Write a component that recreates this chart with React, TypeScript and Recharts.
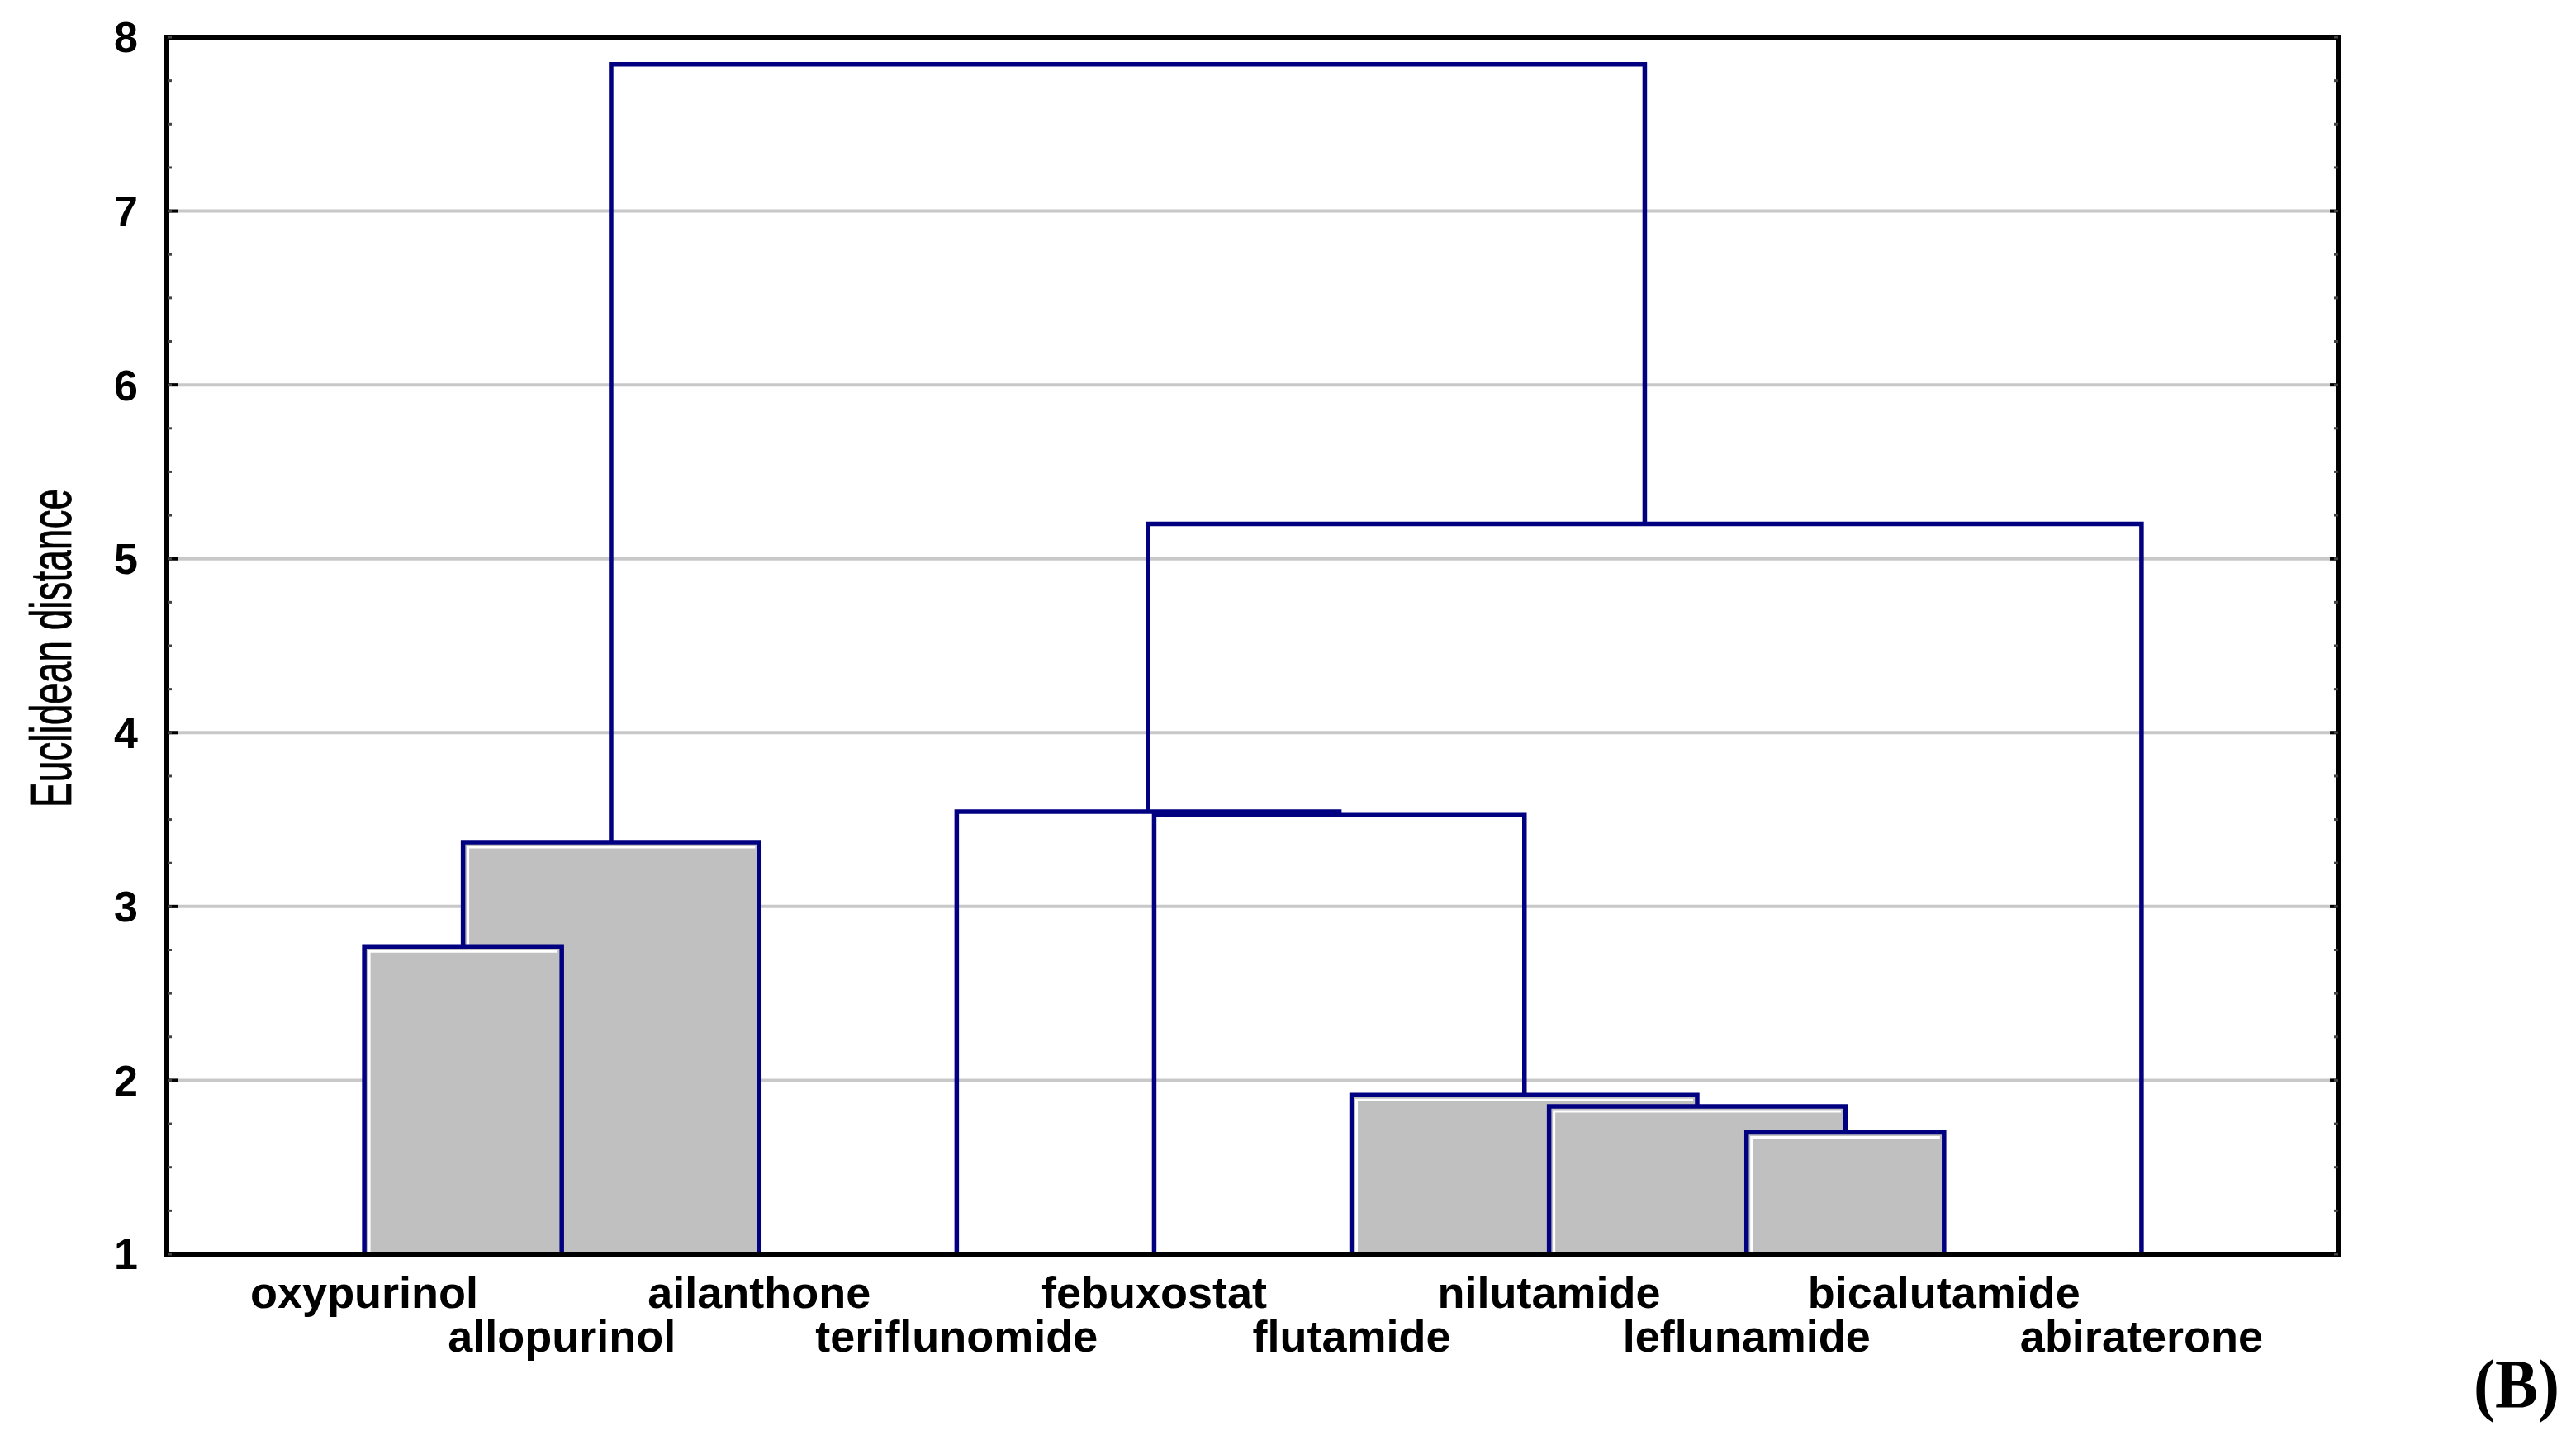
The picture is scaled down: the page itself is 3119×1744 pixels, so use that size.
import { CartesianGrid, ComposedChart, Line, ReferenceArea, XAxis, YAxis } from "recharts"

// leaves in dendrogram order, left to right
const leafNames = [
  "oxypurinol",
  "allopurinol",
  "ailanthone",
  "teriflunomide",
  "febuxostat",
  "flutamide",
  "nilutamide",
  "leflunamide",
  "bicalutamide",
  "abiraterone",
]

// linkage table: ids 0-9 are leaves, merge i creates node 10 + i
const mergeLeft = [7, 6, 5, 0, 13, 4, 3, 16, 14]
const mergeRight = [8, 10, 11, 1, 2, 12, 15, 9, 17]
const mergeHeight = [1.7, 1.85, 1.915, 2.77, 3.37, 3.525, 3.545, 5.2, 7.845]
const mergeShaded = [true, true, true, true, true, false, false, false, false]

const yTicks = [1, 2, 3, 4, 5, 6, 7, 8]
const yMinorTicks = [
  1, 1.25, 1.5, 1.75, 2, 2.25, 2.5, 2.75, 3, 3.25, 3.5, 3.75, 4, 4.25, 4.5,
  4.75, 5, 5.25, 5.5, 5.75, 6, 6.25, 6.5, 6.75, 7, 7.25, 7.5, 7.75, 8,
]
const leafTicks = [1, 2, 3, 4, 5, 6, 7, 8, 9, 10]

const BASE = 1
const FONT = "'Liberation Sans', Arial, sans-serif"
const LINK = "#000080"

// node positions: leaves on 1..n, clusters at the midpoint of their children
const nodeX: number[] = leafNames.map((_, i) => i + 1)
const nodeY: number[] = leafNames.map(() => BASE)
mergeHeight.forEach((h, i) => {
  nodeX.push((nodeX[mergeLeft[i]] + nodeX[mergeRight[i]]) / 2)
  nodeY.push(h)
})

const links = mergeHeight.map((h, i) => {
  const a = mergeLeft[i]
  const b = mergeRight[i]
  return [
    { x: nodeX[a], y: nodeY[a] },
    { x: nodeX[a], y: h },
    { x: nodeX[b], y: h },
    { x: nodeX[b], y: nodeY[b] },
  ]
})

const shadedBoxes = mergeHeight
  .map((h, i) => ({ x1: nodeX[mergeLeft[i]], x2: nodeX[mergeRight[i]], h, on: mergeShaded[i] }))
  .filter((b) => b.on)
  .sort((p, q) => q.h - p.h)

const ShadedBox = (props: any) => {
  const { x, y, width, height } = props
  return (
    <g>
      <rect x={x} y={y} width={width} height={height} fill="#c0c0c0" />
      <polyline
        points={`${x + 6},${y + height} ${x + 6},${y + 6} ${x + width - 5},${y + 6}`}
        fill="none"
        stroke="#ffffff"
        strokeWidth={3}
      />
    </g>
  )
}

const LeafTick = (props: any) => {
  const { x, y, payload } = props
  const i = payload.value - 1
  const lower = i % 2 === 1
  return (
    <text
      x={x}
      y={y + (lower ? 118 : 65)}
      textAnchor="middle"
      fontSize={54}
      fontWeight="bold"
      fontFamily={FONT}
      fill="#000"
    >
      {leafNames[i]}
    </text>
  )
}

const YTitle = (props: any) => {
  const { viewBox } = props
  const cx = viewBox.x + 86
  const cy = viewBox.y + viewBox.height / 2 + 3
  return (
    <text
      x={cx}
      y={cy}
      transform={`rotate(-90, ${cx}, ${cy})`}
      textAnchor="middle"
      fontSize={71}
      fontFamily={FONT}
      textLength={386}
      lengthAdjust="spacingAndGlyphs"
      stroke="#000"
      strokeWidth={0.8}
      fill="#000"
    >
      Euclidean distance
    </text>
  )
}

const NoTick = () => <g />

const axisLine = { stroke: "#000", strokeWidth: 6, strokeLinecap: "square" as const }

export default function App() {
  return (
    <div style={{ position: "absolute", left: 0, top: 0, width: 3119, height: 1744, background: "#fff" }}>
      <ComposedChart
        width={3119}
        height={1744}
        margin={{ top: 45, right: 287, bottom: 0, left: 0 }}
      >
        <CartesianGrid vertical={false} stroke="#c8c8c8" strokeWidth={4} />
        <XAxis
          type="number"
          dataKey="x"
          domain={[0, 11]}
          ticks={leafTicks}
          allowDataOverflow
          height={225}
          axisLine={axisLine}
          tickLine={false}
          tickSize={0}
          tickMargin={0}
          tick={<LeafTick />}
          interval={0}
        />
        <XAxis
          xAxisId="top"
          orientation="top"
          mirror
          type="number"
          domain={[0, 11]}
          ticks={leafTicks}
          allowDataOverflow
          height={1}
          axisLine={axisLine}
          tickLine={{ stroke: "#000", strokeWidth: 3 }}
          tickSize={11}
          tick={NoTick}
          interval={0}
        />
        <YAxis
          type="number"
          domain={[1, 8]}
          ticks={yTicks}
          allowDataOverflow
          width={202}
          axisLine={axisLine}
          tickLine={false}
          tickSize={0}
          tickMargin={35}
          interval={0}
          tick={{ fontSize: 52, fontWeight: "bold", fontFamily: FONT, fill: "#000" }}
          label={<YTitle />}
        />
        <YAxis
          yAxisId="leftMajor"
          mirror
          type="number"
          domain={[1, 8]}
          ticks={yTicks}
          allowDataOverflow
          width={1}
          axisLine={false}
          tickLine={{ stroke: "#000", strokeWidth: 4 }}
          tickSize={13}
          tick={NoTick}
          interval={0}
        />
        <YAxis
          yAxisId="leftMinor"
          mirror
          type="number"
          domain={[1, 8]}
          ticks={yMinorTicks}
          allowDataOverflow
          width={1}
          axisLine={false}
          tickLine={{ stroke: "#444", strokeWidth: 3 }}
          tickSize={5}
          tick={NoTick}
          interval={0}
        />
        <YAxis
          yAxisId="rightMajor"
          orientation="right"
          mirror
          type="number"
          domain={[1, 8]}
          ticks={yTicks}
          allowDataOverflow
          width={1}
          axisLine={axisLine}
          tickLine={{ stroke: "#000", strokeWidth: 4 }}
          tickSize={11}
          tick={NoTick}
          interval={0}
        />
        <YAxis
          yAxisId="rightMinor"
          orientation="right"
          mirror
          type="number"
          domain={[1, 8]}
          ticks={yMinorTicks}
          allowDataOverflow
          width={1}
          axisLine={false}
          tickLine={{ stroke: "#444", strokeWidth: 3 }}
          tickSize={5}
          tick={NoTick}
          interval={0}
        />

        {shadedBoxes.map((b, i) => (
          <ReferenceArea
            key={`box-${i}`}
            x1={b.x1}
            x2={b.x2}
            y1={BASE}
            y2={b.h}
            shape={ShadedBox}
            ifOverflow="visible"
          />
        ))}

        {links.map((pts, i) => (
          <Line
            key={`link-${i}`}
            data={pts}
            dataKey="y"
            type="linear"
            stroke={LINK}
            strokeWidth={5.5}
            strokeLinejoin="miter"
            dot={false}
            activeDot={false}
            isAnimationActive={false}
            legendType="none"
          />
        ))}
      </ComposedChart>
      <svg
        width={3119}
        height={1744}
        style={{ position: "absolute", left: 0, top: 0, pointerEvents: "none" }}
      >
        <text
          x={3047}
          y={1705}
          textAnchor="middle"
          fontSize={84}
          fontWeight="bold"
          fontFamily="'Liberation Serif', 'Times New Roman', serif"
          textLength={104}
          lengthAdjust="spacingAndGlyphs"
          fill="#000"
        >
          (B)
        </text>
      </svg>
    </div>
  )
}
